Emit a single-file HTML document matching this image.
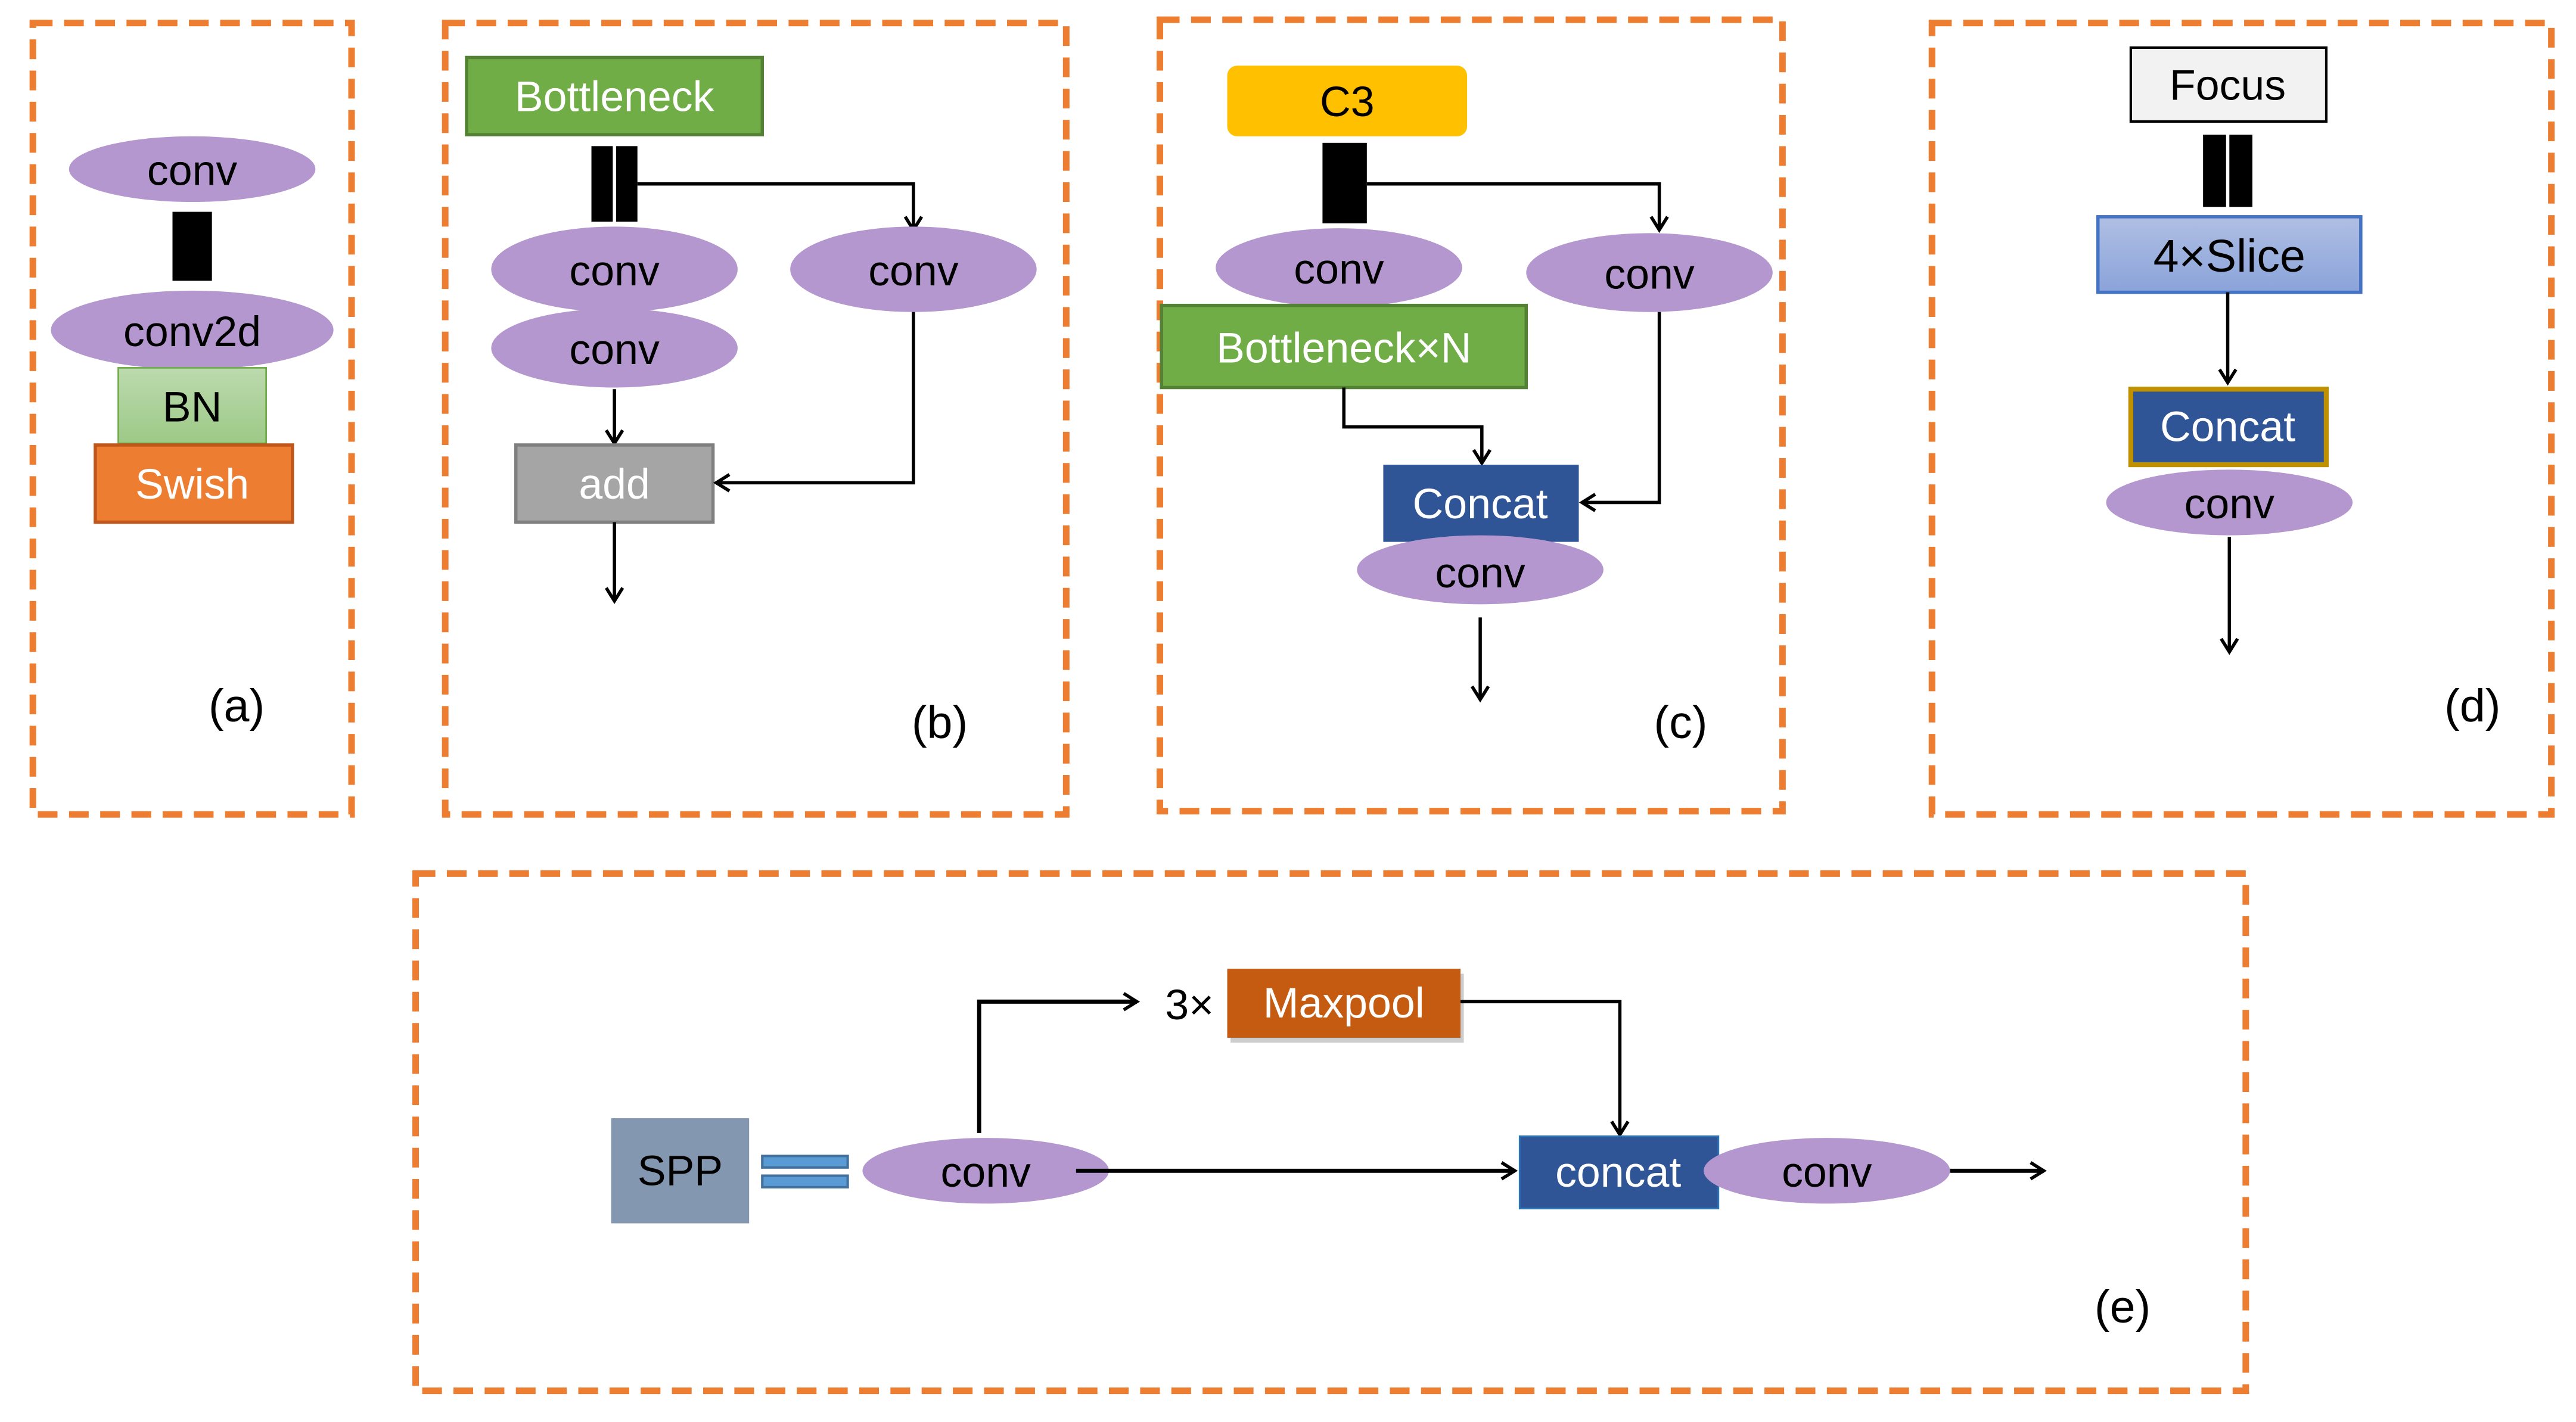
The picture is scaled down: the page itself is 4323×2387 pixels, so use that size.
<!DOCTYPE html>
<html><head><meta charset="utf-8"><style>
html,body{margin:0;padding:0;background:#fff;}
svg{display:block;}
text{font-family:"Liberation Sans",sans-serif;text-anchor:middle;dominant-baseline:central;}
</style></head><body>
<svg width="4323" height="2387" viewBox="0 0 1568 866" preserveAspectRatio="none" xmlns="http://www.w3.org/2000/svg">
<defs>
<marker id="ar" markerWidth="12" markerHeight="12" refX="10" refY="6" orient="auto" markerUnits="userSpaceOnUse">
<path d="M2,1 L10,6 L2,11" fill="none" stroke="#000" stroke-width="2"/>
</marker>
<linearGradient id="bn" x1="0" y1="0" x2="0" y2="1"><stop offset="0" stop-color="#bcdaae"/><stop offset="1" stop-color="#9dc987"/></linearGradient>
<linearGradient id="sl" x1="0" y1="0" x2="0" y2="1"><stop offset="0" stop-color="#b0bfe3"/><stop offset="1" stop-color="#8aa3da"/></linearGradient>
</defs>
<g fill="none" stroke="#ED7D31" stroke-width="4" stroke-dasharray="12,7">
<rect x="20" y="14" width="194" height="482"/>
<rect x="271" y="14" width="378" height="482"/>
<rect x="706" y="12" width="379" height="482"/>
<rect x="1176" y="14" width="377" height="482"/>
<rect x="253" y="532" width="1114" height="315"/>
</g>
<g font-size="26">
<!-- a -->
<ellipse cx="117" cy="103" rx="75" ry="20" fill="#B597CF"/>
<text x="117" y="104">conv</text>
<rect x="105" y="129" width="24" height="42" fill="#000"/>
<ellipse cx="117" cy="201" rx="86" ry="24" fill="#B597CF"/>
<text x="117" y="202">conv2d</text>
<rect x="72" y="224" width="90" height="46" fill="url(#bn)" stroke="#70ad47" stroke-width="1"/>
<text x="117" y="248">BN</text>
<rect x="58" y="271" width="120" height="47" fill="#ED7D31" stroke="#c0561a" stroke-width="2"/>
<text x="117" y="295" fill="#fff">Swish</text>
<text x="144" y="430" font-size="28">(a)</text>
<!-- b -->
<rect x="284" y="35" width="180" height="47" fill="#70AD47" stroke="#548235" stroke-width="2"/>
<text x="374" y="59" fill="#fff">Bottleneck</text>
<rect x="360" y="89" width="13" height="46" fill="#000"/><rect x="375" y="89" width="13" height="46" fill="#000"/>
<path d="M388,112 H556 V140" fill="none" stroke="#000" stroke-width="2" marker-end="url(#ar)"/>
<ellipse cx="374" cy="164" rx="75" ry="26" fill="#B597CF"/>
<text x="374" y="165">conv</text>
<ellipse cx="374" cy="212" rx="75" ry="24" fill="#B597CF"/>
<text x="374" y="213">conv</text>
<ellipse cx="556" cy="164" rx="75" ry="26" fill="#B597CF"/>
<text x="556" y="165">conv</text>
<path d="M374,237 V270" fill="none" stroke="#000" stroke-width="2" marker-end="url(#ar)"/>
<rect x="314" y="271" width="120" height="47" fill="#A5A5A5" stroke="#7f7f7f" stroke-width="2"/>
<text x="374" y="295" fill="#fff">add</text>
<path d="M556,190 V294 H436" fill="none" stroke="#000" stroke-width="2" marker-end="url(#ar)"/>
<path d="M374,318 V366" fill="none" stroke="#000" stroke-width="2" marker-end="url(#ar)"/>
<text x="572" y="440" font-size="28">(b)</text>
<!-- c -->
<rect x="747" y="40" width="146" height="43" rx="6" fill="#FFC000"/>
<text x="820" y="62">C3</text>
<rect x="805" y="87" width="27" height="49" fill="#000"/>
<path d="M832,112 H1010 V140" fill="none" stroke="#000" stroke-width="2" marker-end="url(#ar)"/>
<ellipse cx="815" cy="163" rx="75" ry="24" fill="#B597CF"/>
<text x="815" y="164">conv</text>
<ellipse cx="1004" cy="166" rx="75" ry="24" fill="#B597CF"/>
<text x="1004" y="167">conv</text>
<rect x="707" y="186" width="222" height="50" fill="#70AD47" stroke="#548235" stroke-width="2"/>
<text x="818" y="212" fill="#fff">Bottleneck×N</text>
<path d="M818,236 V260 H902 V282" fill="none" stroke="#000" stroke-width="2" marker-end="url(#ar)"/>
<path d="M1010,190 V306 H963" fill="none" stroke="#000" stroke-width="2" marker-end="url(#ar)"/>
<rect x="842" y="283" width="119" height="47" fill="#2F5597"/>
<ellipse cx="901" cy="347" rx="75" ry="21" fill="#B597CF"/>
<text x="901" y="307" fill="#fff">Concat</text>
<text x="901" y="349">conv</text>
<path d="M901,376 V426" fill="none" stroke="#000" stroke-width="2" marker-end="url(#ar)"/>
<text x="1023" y="440" font-size="28">(c)</text>
<!-- d -->
<rect x="1297" y="29" width="119" height="45" fill="#F2F2F2" stroke="#000" stroke-width="1.5"/>
<text x="1356" y="52">Focus</text>
<rect x="1341" y="82" width="14" height="44" fill="#000"/><rect x="1357" y="82" width="14" height="44" fill="#000"/>
<rect x="1277" y="132" width="160" height="46" fill="url(#sl)" stroke="#4472C4" stroke-width="2"/>
<text x="1357" y="156" font-size="28">4×Slice</text>
<path d="M1356,178 V233" fill="none" stroke="#000" stroke-width="2" marker-end="url(#ar)"/>
<rect x="1297" y="237" width="119" height="46" fill="#2F5597" stroke="#BF9000" stroke-width="3"/>
<text x="1356" y="260" fill="#fff">Concat</text>
<ellipse cx="1357" cy="306" rx="75" ry="20" fill="#B597CF"/>
<text x="1357" y="307">conv</text>
<path d="M1357,327 V397" fill="none" stroke="#000" stroke-width="2" marker-end="url(#ar)"/>
<text x="1505" y="430" font-size="28">(d)</text>
<!-- e -->
<rect x="372" y="681" width="84" height="64" fill="#8497B0"/>
<text x="414" y="713">SPP</text>
<rect x="464" y="704" width="52" height="7" fill="#5B9BD5" stroke="#41719C" stroke-width="1.5"/>
<rect x="464" y="716" width="52" height="7" fill="#5B9BD5" stroke="#41719C" stroke-width="1.5"/>
<ellipse cx="600" cy="713" rx="75" ry="20" fill="#B597CF"/>
<text x="600" y="714">conv</text>
<path d="M655,713 H922" fill="none" stroke="#000" stroke-width="2.5" marker-end="url(#ar)"/>
<path d="M596,690 V610 H692" fill="none" stroke="#000" stroke-width="2.5" marker-end="url(#ar)"/>
<text x="724" y="612">3×</text>
<rect x="749" y="593" width="142" height="42" fill="#999" opacity="0.5"/>
<rect x="747" y="590" width="142" height="42" fill="#C55A11"/>
<text x="818" y="611" fill="#fff">Maxpool</text>
<path d="M889,610 H986 V691" fill="none" stroke="#000" stroke-width="2" marker-end="url(#ar)"/>
<rect x="925" y="692" width="121" height="44" fill="#2F5597" stroke="#2e75b6" stroke-width="1"/>
<ellipse cx="1112" cy="713" rx="75" ry="20" fill="#B597CF"/>
<text x="985" y="714" fill="#fff">concat</text>
<text x="1112" y="714">conv</text>
<path d="M1187,713 H1244" fill="none" stroke="#000" stroke-width="2.5" marker-end="url(#ar)"/>
<text x="1292" y="796" font-size="28">(e)</text>
</g>
</svg>
</body></html>
